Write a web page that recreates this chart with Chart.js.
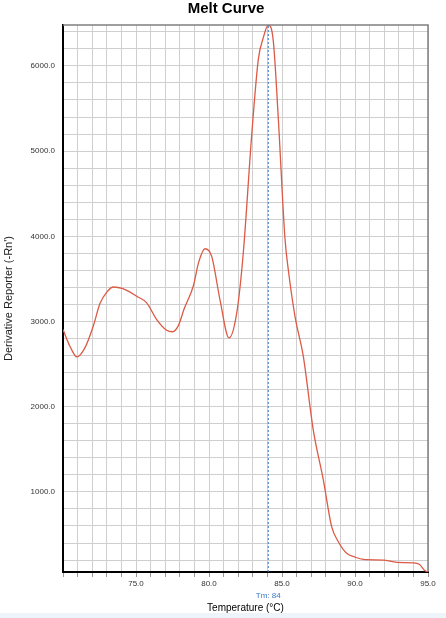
<!DOCTYPE html>
<html>
<head>
<meta charset="utf-8">
<script src="https://cdn.jsdelivr.net/npm/chart.js@4/dist/chart.umd.min.js"></script>
<style>
  html, body { margin: 0; padding: 0; background: #fff; }
  #wrap { width: 446px; height: 618px; }
</style>
</head>
<body>
<div id="wrap"><canvas id="melt"></canvas></div>
<script>
// Melt curve — derivative reporter vs temperature

// ============= DATA =============
const temps = [70.0, 70.5, 70.95, 71.5, 72.07, 72.53, 73.0, 73.45, 74.1, 75.05, 75.73, 76.42, 77.1, 77.5, 77.9,
  78.3, 78.92, 79.3, 79.73, 80.18, 80.75, 81.37, 81.9, 82.35, 82.92, 83.38, 83.7, 84.06, 84.4, 84.75, 85.2,
  85.43, 85.89, 86.46, 87.14, 87.83, 88.4, 88.86, 89.43, 90.0, 90.57, 91.94, 92.86, 94.0, 94.4, 94.8, 95.0];
const deriv = [2905, 2700, 2584, 2690, 2944, 3210, 3345, 3405, 3385, 3297, 3219, 3022, 2897, 2880, 2952,
  3150, 3414, 3700, 3854, 3767, 3258, 2807, 3101, 3807, 5178, 6080, 6320, 6480, 6300, 5374, 3980,
  3610, 3061, 2591, 1729, 1141, 592, 415, 279, 235, 208, 200, 173, 168, 150, 74, 60];
const tmValue = [84.06];
const tmLabel = 'Tm: 84';
const xTickLabels = [75, 80, 85, 90, 95];
const yTickLabels = [1000, 2000, 3000, 4000, 5000, 6000];

const X_MIN = 70, X_MAX = 95, Y_MIN = 60, Y_MAX = 6480;

const curve = temps.map((t, i) => ({ x: t, y: deriv[i] }));
const tmLine = [{ x: tmValue[0], y: Y_MIN }, { x: tmValue[0], y: Y_MAX }];

const font = 'Arial, "Liberation Sans", sans-serif';

// title, frame, Tm label, bottom strip
const extras = {
  id: 'extras',
  beforeDraw(chart) {
    const c = chart.ctx;
    c.save();
    c.fillStyle = '#eef5fa';
    c.fillRect(0, 613, chart.width, 5);
    c.restore();
  },
  afterDraw(chart) {
    const c = chart.ctx;
    const a = chart.chartArea;
    const xs = chart.scales.x;
    c.save();
    c.font = 'bold 15px ' + font;
    c.fillStyle = '#000';
    c.textAlign = 'center';
    c.textBaseline = 'alphabetic';
    c.fillText('Melt Curve', 226, 13);

    // top + right frame
    c.strokeStyle = '#808080';
    c.lineWidth = 1.5;
    c.beginPath();
    c.moveTo(a.left, a.top);
    c.lineTo(a.right, a.top);
    c.lineTo(a.right, a.bottom);
    c.stroke();

    c.font = '8px ' + font;
    c.fillStyle = '#3a78c8';
    c.textBaseline = 'middle';
    c.fillText(tmLabel, xs.getPixelForValue(tmValue[0]), 596);
    c.restore();
  }
};

new Chart(document.getElementById('melt'), {
  type: 'line',
  data: {
    datasets: [
      { data: curve, borderColor: '#dc5a46', borderWidth: 1.3, pointRadius: 0,
        cubicInterpolationMode: 'monotone', order: 1 },
      { data: tmLine, borderColor: '#3a78c8', borderWidth: 1, borderDash: [2, 2], pointRadius: 0, order: 2 }
    ]
  },
  options: {
    responsive: true,
    maintainAspectRatio: false,
    animation: false,
    layout: { padding: { top: 25, right: 18, left: 0, bottom: 0 } },
    plugins: { legend: { display: false }, tooltip: { enabled: false }, title: { display: false } },
    scales: {
      x: {
        type: 'linear', min: X_MIN, max: X_MAX,
        afterFit: s => { s.height = 46; },
        afterBuildTicks: s => {
          const t = [];
          for (let v = X_MIN; v <= X_MAX; v++) t.push({ value: v });
          s.ticks = t;
        },
        ticks: {
          autoSkip: false, maxRotation: 0, padding: 2, color: '#333',
          font: { family: font, size: 8 },
          callback: v => xTickLabels.includes(v) ? v.toFixed(1) : ''
        },
        grid: { color: '#cfcfcf', lineWidth: 1, tickLength: 5, tickColor: '#999' },
        border: { color: '#000', width: 2 },
        title: { display: true, text: 'Temperature (°C)', color: '#000',
          font: { family: font, size: 10 }, padding: { top: 0, bottom: 4 } }
      },
      y: {
        min: Y_MIN, max: Y_MAX,
        afterFit: s => { s.width = 63; },
        afterBuildTicks: s => {
          const t = [];
          for (let v = 200; v <= 6400; v += 200) t.push({ value: v });
          s.ticks = t;
        },
        ticks: {
          autoSkip: false, padding: 8, color: '#333',
          font: { family: font, size: 8 },
          callback: v => yTickLabels.includes(v) ? v.toFixed(1) : ''
        },
        grid: { color: '#cfcfcf', lineWidth: 1, drawTicks: false },
        border: { color: '#000', width: 2 },
        title: { display: true, text: "Derivative Reporter (-Rn')", color: '#222',
          font: { family: font, size: 11 }, padding: { top: 2, bottom: 0 } }
      }
    }
  },
  plugins: [extras]
});
</script>
</body>
</html>
